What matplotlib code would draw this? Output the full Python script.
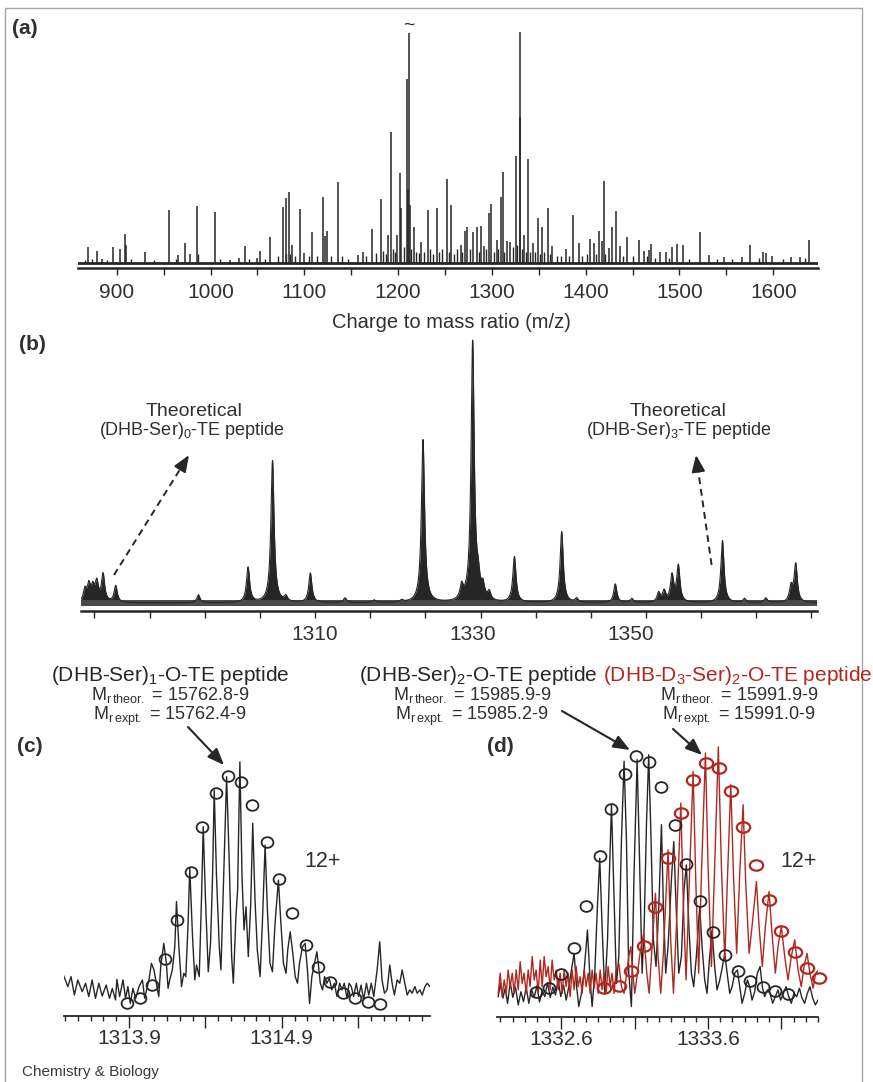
import numpy as np
import matplotlib
matplotlib.use('Agg')
import matplotlib.pyplot as plt
from matplotlib.path import Path
from matplotlib.patches import Rectangle
from matplotlib.transforms import Affine2D

plt.rcParams['font.family'] = ['Liberation Sans', 'DejaVu Sans']
plt.rcParams['mathtext.fontset'] = 'custom'
plt.rcParams['mathtext.rm'] = 'Liberation Sans'
plt.rcParams['mathtext.it'] = 'Liberation Sans:italic'
plt.rcParams['mathtext.bf'] = 'Liberation Sans:bold'

INK = '#262626'
TXT = '#303030'
RED = '#b0281f'

# ---- (a) full spectrum: peak positions (m/z) and heights (% of tallest)
a_peak_mz = [869.1, 878.7, 884.6, 895.7, 903.9, 908.5, 909.6, 929.9, 956.1, 965.4,
             972.8, 978.1, 985.3, 1004.5, 1020.8, 1030.7, 1036.8, 1049.3, 1052.8, 1063.1,
             1076.9, 1080.5, 1083.4, 1087.2, 1095.7, 1099.7, 1108.6, 1119.6, 1122.0, 1124.2,
             1135.9, 1157.6, 1162.3, 1172.5, 1181.8, 1189.6, 1192.4, 1198.8, 1202.0, 1203.4,
             1209.5, 1212.0, 1210.8, 1213.2, 1216.6, 1224.4, 1231.5, 1241.1, 1251.8, 1256.1,
             1266.7, 1271.7, 1273.8, 1280.2, 1283.8, 1288.1, 1291.9, 1297.2, 1298.7, 1305.8,
             1309.7, 1311.8, 1315.8, 1319.3, 1325.7, 1329.6, 1330.3, 1334.2, 1338.5, 1343.8,
             1348.8, 1353.1, 1359.8, 1364.4, 1378.7, 1386.5, 1392.5, 1404.6, 1408.5, 1413.9,
             1417.4, 1419.2, 1424.8, 1428.4, 1432.0, 1436.2, 1444.0, 1456.5, 1461.8, 1467.5,
             1469.6, 1479.5, 1485.9, 1492.3, 1497.3, 1504.1, 1521.5, 1531.8, 1547.8, 1566.3,
             1575.2, 1589.4, 1592.3, 1598.3, 1618.9, 1628.5, 1638.4]
a_peak_int = [6.9, 5.5, 1.9, 6.9, 6.2, 12.5, 7.9, 4.7, 23.0, 3.6,
              8.9, 4.0, 24.7, 22.2, 1.4, 2.2, 7.6, 2.2, 5.5, 11.5,
              24.5, 28.1, 30.9, 7.9, 23.5, 4.3, 13.4, 28.5, 12.0, 13.8,
              35.3, 3.6, 5.0, 14.7, 27.8, 12.2, 56.8, 12.2, 39.1, 23.7,
              79.7, 99.6, 32.0, 25.0, 15.8, 9.4, 23.0, 24.0, 36.3, 25.2,
              7.9, 14.1, 15.8, 13.5, 15.8, 16.1, 7.6, 21.6, 25.5, 10.1,
              28.8, 39.6, 9.6, 9.4, 46.3, 100.0, 63.0, 12.2, 44.9, 8.6,
              19.4, 15.5, 24.0, 7.5, 6.0, 21.0, 8.9, 10.4, 8.9, 14.1,
              9.8, 35.7, 6.5, 15.5, 22.7, 7.5, 11.2, 10.1, 5.5, 5.8,
              8.2, 5.0, 5.0, 6.9, 8.3, 7.8, 13.7, 3.6, 2.6, 2.6,
              7.9, 5.0, 4.3, 3.2, 2.6, 2.9, 10.1]
a_grass_mz = [866, 874, 890, 915, 940, 963, 987, 1010, 1041, 1058,
              1072, 1080, 1085, 1090, 1105, 1113, 1128, 1140, 1147, 1166,
              1176, 1184, 1187, 1195, 1197, 1206, 1214, 1219, 1222, 1228,
              1234, 1237, 1244, 1247, 1254, 1260, 1263, 1268, 1277, 1286,
              1294, 1302, 1307, 1313, 1322, 1327, 1332, 1336, 1341, 1346,
              1351, 1356, 1362, 1369, 1374, 1382, 1396, 1401, 1411, 1421,
              1440, 1450, 1465, 1474, 1489, 1510, 1540, 1556, 1585, 1610, 1634]
a_grass_int = [1.5, 2.0, 1.5, 2.0, 1.5, 2.0, 4.0, 2.0, 2.0, 2.0,
               3.0, 4.0, 4.0, 3.0, 3.0, 3.0, 3.0, 3.0, 2.0, 3.0,
               4.5, 5.5, 4.0, 6.0, 5.0, 7.0, 6.0, 5.0, 4.5, 5.0,
               6.0, 4.0, 5.0, 6.0, 5.0, 4.0, 6.0, 5.0, 6.0, 5.0,
               6.0, 5.0, 6.0, 5.0, 7.0, 8.0, 6.0, 5.0, 5.0, 5.0,
               4.0, 5.0, 4.0, 3.0, 3.0, 3.0, 3.0, 4.0, 4.0, 4.0,
               3.0, 3.0, 3.0, 2.5, 2.5, 2.0, 2.0, 2.0, 2.5, 2.0, 2.5]
a_tick_labels = [900, 1000, 1100, 1200, 1300, 1400, 1500, 1600]
a_tick_minor = [950, 1050, 1150, 1250, 1350, 1450, 1550]

# ---- (b) expanded region
b_peak_mz = [1280.8, 1281.3, 1281.8, 1282.3, 1283.1, 1284.7, 1295.2, 1301.5, 1304.6, 1306.3,
             1309.4, 1313.8, 1317.5, 1321.0, 1323.7, 1328.6, 1330.0, 1330.7, 1331.3, 1332.1,
             1335.3, 1341.3, 1343.2, 1348.1, 1350.2, 1353.6, 1354.3, 1355.3, 1356.1, 1361.7,
             1364.5, 1367.2, 1370.4, 1371.0]
b_peak_int = [7.5, 9.0, 8.0, 10.0, 13.3, 9.2, 6.0, 16.1, 56.0, 5.0,
              14.0, 4.8, 4.0, 3.8, 63.8, 8.0, 100.0, 9.0, 7.7, 6.0,
              20.0, 29.5, 4.5, 10.0, 4.5, 6.5, 7.0, 12.8, 16.5, 26.2,
              4.5, 4.8, 8.6, 17.2]
b_baseline = 3.0
b_tick_labels = [1310, 1330, 1350]
b_tick_minor = [1282, 1289, 1296, 1303, 1310, 1317, 1324, 1331, 1338, 1345, 1352, 1359, 1366, 1373]

# ---- (c) 12+ isotope cluster, measured profile and theoretical distribution
c_profile = [(1313.471, 16.0), (1313.500, 11.5), (1313.521, 15.4), (1313.543, 8.2), (1313.565, 14.1),
             (1313.594, 9.5), (1313.616, 12.8), (1313.637, 7.6), (1313.659, 14.1), (1313.681, 6.9),
             (1313.703, 12.8), (1313.725, 7.8), (1313.751, 12.1), (1313.773, 6.9), (1313.791, 10.8),
             (1313.812, 6.3), (1313.821, 14.3), (1313.839, 7.6), (1313.861, 14.1), (1313.878, 6.9),
             (1313.893, 11.5), (1313.909, 4.9), (1313.926, 10.8), (1313.944, 6.9), (1313.966, 11.5),
             (1313.988, 14.1), (1314.003, 6.9), (1314.018, 10.8), (1314.031, 14.1), (1314.047, 20.6),
             (1314.064, 18.0), (1314.079, 12.8), (1314.095, 7.6), (1314.108, 19.3), (1314.128, 28.4),
             (1314.145, 20.6), (1314.156, 10.8), (1314.167, 14.1), (1314.184, 18.0), (1314.200, 27.1),
             (1314.211, 44.7), (1314.228, 25.8), (1314.244, 11.5), (1314.259, 16.7), (1314.272, 15.4),
             (1314.287, 36.2), (1314.298, 57.7), (1314.316, 31.0), (1314.331, 14.1), (1314.342, 19.9),
             (1314.360, 15.4), (1314.375, 46.6), (1314.386, 74.0), (1314.401, 45.3), (1314.419, 17.3),
             (1314.434, 28.4), (1314.447, 54.4), (1314.458, 88.3), (1314.473, 54.4), (1314.491, 27.1),
             (1314.502, 18.0), (1314.517, 49.2), (1314.539, 93.5), (1314.556, 60.9), (1314.572, 23.2),
             (1314.583, 12.8), (1314.600, 38.8), (1314.611, 49.2), (1314.626, 99.3), (1314.640, 54.4),
             (1314.653, 33.6), (1314.666, 42.7), (1314.681, 23.2), (1314.697, 44.0), (1314.710, 75.3),
             (1314.725, 45.3), (1314.740, 25.8), (1314.758, 15.4), (1314.773, 36.2), (1314.791, 66.8),
             (1314.806, 41.4), (1314.823, 20.6), (1314.839, 17.3), (1314.856, 36.2), (1314.878, 53.1),
             (1314.893, 37.5), (1314.911, 20.6), (1314.928, 16.7), (1314.939, 25.8), (1314.955, 32.9),
             (1314.970, 25.8), (1314.988, 15.4), (1315.003, 12.8), (1315.016, 20.6), (1315.036, 27.1),
             (1315.053, 28.4), (1315.068, 18.0), (1315.082, 4.9), (1315.097, 15.4), (1315.114, 20.6),
             (1315.130, 25.1), (1315.141, 19.3), (1315.152, 12.8), (1315.167, 10.2), (1315.180, 15.4),
             (1315.195, 12.8), (1315.211, 14.7), (1315.228, 10.2), (1315.244, 12.8), (1315.261, 7.6),
             (1315.279, 12.8), (1315.294, 10.2), (1315.309, 12.8), (1315.327, 6.9), (1315.340, 12.8),
             (1315.355, 11.5), (1315.370, 7.6), (1315.388, 12.8), (1315.403, 7.6), (1315.419, 12.1),
             (1315.436, 6.3), (1315.454, 12.8), (1315.469, 8.2), (1315.486, 12.8), (1315.502, 7.6),
             (1315.524, 18.0), (1315.541, 29.0), (1315.556, 14.1), (1315.572, 8.9), (1315.589, 10.2),
             (1315.607, 19.9), (1315.622, 12.8), (1315.637, 8.2), (1315.655, 14.1), (1315.672, 12.8),
             (1315.688, 18.0), (1315.705, 12.8), (1315.721, 8.2), (1315.738, 10.2), (1315.753, 8.9),
             (1315.771, 11.5), (1315.786, 8.9), (1315.804, 10.2), (1315.819, 8.2), (1315.837, 11.5),
             (1315.852, 12.8), (1315.869, 11.5)]
c_theo_mz = [1313.887, 1313.970, 1314.053, 1314.136, 1314.215, 1314.303, 1314.381, 1314.467,
             1314.550, 1314.633, 1314.707, 1314.802, 1314.880, 1314.966, 1315.058, 1315.134,
             1315.217, 1315.300, 1315.381, 1315.462, 1315.546]
c_theo_int = [4.9, 6.9, 12.1, 22.1, 37.5, 56.1, 74.0, 87.0, 93.8, 91.5, 82.4,
              68.1, 53.5, 40.1, 27.7, 19.3, 13.4, 9.1, 6.9, 5.6, 4.7]
c_tick_labels = ['1313.9', '', '1314.9', '']
c_tick_major = [1313.9, 1314.4, 1314.9, 1315.4]

# ---- (d) unlabelled (black) and D3-labelled (red) clusters
d_profile = [(1332.168, 7.6), (1332.184, 12.5), (1332.200, 7.0), (1332.216, 10.7), (1332.232, 5.1),
             (1332.250, 12.8), (1332.268, 7.3), (1332.286, 11.1), (1332.305, 4.5), (1332.323, 9.4),
             (1332.341, 5.7), (1332.359, 11.1), (1332.377, 5.1), (1332.395, 10.3), (1332.414, 7.3),
             (1332.432, 11.6), (1332.450, 5.6), (1332.468, 9.8), (1332.486, 7.6), (1332.505, 12.8),
             (1332.523, 7.3), (1332.541, 11.1), (1332.559, 8.2), (1332.577, 13.8), (1332.595, 7.6),
             (1332.614, 11.9), (1332.632, 6.3), (1332.650, 11.3), (1332.668, 17.5), (1332.686, 23.7),
             (1332.702, 11.9), (1332.718, 3.9), (1332.736, 8.8), (1332.755, 17.5), (1332.777, 32.4),
             (1332.795, 13.8), (1332.809, 3.9), (1332.827, 16.3), (1332.845, 41.1), (1332.861, 59.1),
             (1332.877, 33.7), (1332.895, 8.8), (1332.914, 28.7), (1332.927, 53.5), (1332.941, 79.0),
             (1332.957, 47.3), (1332.975, 12.5), (1332.991, 22.5), (1333.009, 66.0), (1333.027, 95.2),
             (1333.043, 66.0), (1333.059, 16.3), (1333.077, 3.9), (1333.095, 53.5), (1333.116, 95.8),
             (1333.132, 59.8), (1333.150, 16.3), (1333.164, 33.7), (1333.180, 72.2), (1333.195, 97.6),
             (1333.211, 66.0), (1333.227, 28.7), (1333.245, 18.8), (1333.264, 41.1), (1333.282, 71.6),
             (1333.295, 41.1), (1333.311, 16.3), (1333.327, 26.2), (1333.350, 51.1), (1333.366, 65.3),
             (1333.382, 41.1), (1333.400, 16.3), (1333.418, 22.5), (1333.436, 47.3), (1333.452, 56.6),
             (1333.468, 34.9), (1333.486, 16.3), (1333.502, 11.3), (1333.520, 22.5), (1333.543, 41.1),
             (1333.559, 26.2), (1333.577, 13.8), (1333.593, 8.8), (1333.609, 21.2), (1333.627, 32.4),
             (1333.645, 18.8), (1333.661, 10.1), (1333.680, 13.8), (1333.698, 18.8), (1333.714, 23.7),
             (1333.730, 16.3), (1333.748, 8.8), (1333.764, 11.3), (1333.782, 16.3), (1333.800, 17.5),
             (1333.816, 11.3), (1333.832, 5.1), (1333.850, 8.8), (1333.868, 13.8), (1333.884, 11.3),
             (1333.900, 6.3), (1333.918, 9.4), (1333.936, 16.3), (1333.955, 18.8), (1333.970, 11.3),
             (1333.986, 7.6), (1334.005, 10.1), (1334.023, 8.8), (1334.041, 5.1), (1334.059, 7.6),
             (1334.077, 10.1), (1334.095, 6.3), (1334.114, 8.8), (1334.132, 11.3), (1334.150, 7.6),
             (1334.168, 5.1), (1334.186, 8.8), (1334.205, 7.6), (1334.223, 10.7), (1334.241, 7.0),
             (1334.259, 5.1), (1334.277, 8.8), (1334.295, 11.3), (1334.314, 7.0), (1334.332, 4.5),
             (1334.350, 6.3)]
d_d3_profile = [(1332.168, 8.8), (1332.182, 16.3), (1332.195, 7.6), (1332.209, 13.8), (1332.223, 8.8),
                (1332.236, 17.5), (1332.250, 11.3), (1332.264, 16.3), (1332.277, 8.8), (1332.291, 17.5),
                (1332.305, 10.1), (1332.318, 20.6), (1332.332, 12.5), (1332.345, 16.3), (1332.359, 8.8),
                (1332.373, 17.5), (1332.386, 11.3), (1332.400, 22.5), (1332.414, 13.8), (1332.427, 17.5),
                (1332.441, 8.8), (1332.455, 21.2), (1332.468, 11.3), (1332.482, 22.5), (1332.495, 15.0),
                (1332.509, 18.8), (1332.523, 10.1), (1332.536, 21.2), (1332.550, 13.8), (1332.564, 17.5),
                (1332.577, 10.1), (1332.591, 16.3), (1332.605, 8.8), (1332.618, 17.5), (1332.632, 11.3),
                (1332.645, 16.3), (1332.659, 7.6), (1332.673, 17.5), (1332.686, 10.1), (1332.700, 18.8),
                (1332.714, 11.3), (1332.727, 15.0), (1332.741, 8.8), (1332.755, 17.5), (1332.768, 11.3),
                (1332.782, 16.3), (1332.795, 8.8), (1332.809, 17.5), (1332.823, 10.7), (1332.836, 16.3),
                (1332.850, 8.8), (1332.864, 17.5), (1332.877, 10.1), (1332.891, 16.3), (1332.905, 8.8),
                (1332.918, 18.8), (1332.932, 11.3), (1332.945, 16.3), (1332.959, 8.8), (1332.973, 17.5),
                (1332.991, 20.0), (1333.009, 11.3), (1333.027, 8.8), (1333.045, 16.3), (1333.059, 22.5),
                (1333.073, 26.2), (1333.086, 16.3), (1333.100, 8.8), (1333.118, 16.3), (1333.136, 23.7),
                (1333.161, 31.2), (1333.182, 16.3), (1333.198, 8.8), (1333.214, 22.5), (1333.241, 46.1),
                (1333.259, 22.5), (1333.277, 8.8), (1333.295, 23.7), (1333.327, 62.2), (1333.345, 28.7),
                (1333.364, 8.8), (1333.384, 33.7), (1333.414, 79.6), (1333.432, 41.1), (1333.450, 13.8),
                (1333.470, 47.3), (1333.498, 91.4), (1333.516, 51.1), (1333.536, 16.3), (1333.555, 53.5),
                (1333.582, 98.3), (1333.600, 56.0), (1333.623, 18.8), (1333.645, 56.0), (1333.670, 100.5),
                (1333.691, 56.0), (1333.714, 21.2), (1333.732, 51.1), (1333.755, 86.5), (1333.773, 53.5),
                (1333.795, 23.7), (1333.816, 53.5), (1333.839, 79.0), (1333.857, 49.8), (1333.880, 23.7),
                (1333.900, 33.7), (1333.930, 50.4), (1333.948, 33.7), (1333.970, 18.8), (1333.991, 33.7),
                (1334.016, 46.7), (1334.036, 31.2), (1334.059, 16.3), (1334.077, 26.2), (1334.100, 33.7),
                (1334.123, 22.5), (1334.145, 13.8), (1334.168, 22.5), (1334.191, 28.7), (1334.214, 17.5),
                (1334.236, 11.3), (1334.255, 18.8), (1334.275, 23.7), (1334.295, 16.3), (1334.316, 10.7),
                (1334.334, 16.3), (1334.355, 17.5)]
d_theo_mz = [1332.423, 1332.516, 1332.600, 1332.684, 1332.770, 1332.861, 1332.941, 1333.032,
             1333.111, 1333.195, 1333.277, 1333.373, 1333.452, 1333.543, 1333.634, 1333.718,
             1333.805, 1333.889, 1333.975, 1334.059, 1334.145]
d_theo_int = [9.2, 10.7, 16.0, 25.6, 41.5, 59.8, 77.4, 90.4, 97.3, 94.9, 85.6,
              71.6, 56.9, 43.2, 31.6, 23.1, 17.3, 13.5, 11.1, 9.8, 8.6]
d_d3_theo_mz = [1332.891, 1332.991, 1333.073, 1333.161, 1333.241, 1333.327, 1333.414, 1333.498,
                1333.589, 1333.675, 1333.755, 1333.839, 1333.930, 1334.016, 1334.100, 1334.191,
                1334.275, 1334.355]
d_d3_theo_int = [10.7, 11.7, 17.1, 26.5, 41.1, 59.1, 76.1, 88.3, 94.5, 92.7, 84.0,
                 70.6, 56.4, 43.6, 32.0, 24.3, 18.4, 14.4]
d_tick_labels = ['1332.6', '', '1333.6', '']
d_tick_major = [1332.6, 1333.1, 1333.6, 1334.1]
ISOTOPE_STEP = 1 / 12  # 12+ charge state

W, H = 873, 1082
fig = plt.figure(figsize=(W / 100, H / 100), dpi=100)


def px_axes(left, top, right, bottom):
    return fig.add_axes([left / W, 1 - bottom / H, (right - left) / W, (bottom - top) / H])


def bare(ax, spine_lw):
    for s in ('left', 'right', 'top'):
        ax.spines[s].set_visible(False)
    ax.spines['bottom'].set_linewidth(spine_lw)
    ax.spines['bottom'].set_color(INK)
    ax.set_yticks([])
    ax.patch.set_alpha(0)


def ring(aspect):
    return Path.unit_circle().transformed(Affine2D().scale(1.0, aspect))


# panel (a)
ax_a = px_axes(78, 20, 818, 268)
bare(ax_a, 1.8)
ax_a.set_xlim(858.7, 1647.7)
ax_a.set_ylim(-2.03, 105.1)
ax_a.axhline(0.1, color=INK, lw=2.0)
ax_a.vlines(a_grass_mz, 0, a_grass_int, color=INK, lw=1.0)
ax_a.vlines(a_peak_mz, 0, a_peak_int, color=INK, lw=1.1)
ax_a.set_xticks(a_tick_labels)
ax_a.set_xticks(a_tick_minor, minor=True)
ax_a.tick_params(axis='x', which='both', direction='out', length=5, width=1.0,
                 color=INK, labelsize=15, labelcolor=TXT, pad=6)

# panel (b)
ax_b = px_axes(81, 335, 817, 611)
bare(ax_b, 1.8)
ax_b.set_xlim(1280.3, 1373.7)
ax_b.set_ylim(0, 103)
grid = np.linspace(1280.3, 1373.7, 9000)
hw = 0.24
amps = np.asarray(b_peak_int) - b_baseline
centres = np.asarray(b_peak_mz)
prof = b_baseline + (amps[:, None] * hw ** 2 /
                     ((grid[None, :] - centres[:, None]) ** 2 + hw ** 2)).sum(axis=0)
ax_b.fill_between(grid, b_baseline, prof, color=INK, lw=0)
ax_b.plot(grid, prof, color=INK, lw=0.8)
ax_b.axhspan(b_baseline - 1.1, b_baseline + 1.1, color='#4a4a4a', lw=0)
ax_b.xaxis.remove_overlapping_locs = False
ax_b.set_xticks(b_tick_labels)
ax_b.set_xticks(b_tick_minor, minor=True)
ax_b.tick_params(axis='x', which='major', length=0, labelsize=15, labelcolor=TXT, pad=10)
ax_b.tick_params(axis='x', which='minor', direction='out', length=5, width=1.0, color=INK)


def cluster_axes(ax, xlim, ylim_top, majors, labels):
    bare(ax, 1.3)
    ax.set_xlim(*xlim)
    ax.set_ylim(0, ylim_top)
    ax.set_xticks(majors, labels)
    k = np.arange(-12, 36)
    minors = [majors[0] + i * ISOTOPE_STEP for i in k
              if xlim[0] <= majors[0] + i * ISOTOPE_STEP <= xlim[1]]
    ax.set_xticks(minors, minor=True)
    ax.tick_params(axis='x', which='major', direction='out', length=8.5, width=1.0,
                   color=INK, labelsize=15, labelcolor=TXT, pad=1)
    ax.tick_params(axis='x', which='minor', direction='out', length=3.6, width=1.0, color=INK)


# panel (c)
ax_c = px_axes(64, 745, 430, 1016)
cluster_axes(ax_c, (1313.475, 1315.87), 105.9, c_tick_major, c_tick_labels)
cx, cy = np.asarray(c_profile).T
ax_c.plot(cx, cy, color=INK, lw=1.0)
ax_c.plot(c_theo_mz, c_theo_int, ls='none', marker=ring(0.9), ms=8.5,
          mfc='none', mec=INK, mew=1.3, clip_on=False)

# panel (d)
ax_d = px_axes(497, 740, 818, 1017)
cluster_axes(ax_d, (1332.16, 1334.35), 103.1, d_tick_major, d_tick_labels)
dx, dy = np.asarray(d_profile).T
rx, ry = np.asarray(d_d3_profile).T
ax_d.plot(dx, dy, color=INK, lw=1.0)
ax_d.plot(rx, ry, color=RED, lw=1.0)
ax_d.plot(d_theo_mz, d_theo_int, ls='none', marker=ring(0.9), ms=8.6,
          mfc='none', mec=INK, mew=1.3, clip_on=False)
ax_d.plot(d_d3_theo_mz, d_d3_theo_int, ls='none', marker=ring(0.78), ms=9.6,
          mfc='none', mec=RED, mew=1.6, clip_on=False)

# overlay in pixel units for labels and arrows
ov = fig.add_axes([0, 0, 1, 1], facecolor='none', zorder=10)
ov.set_xlim(0, W)
ov.set_ylim(H, 0)
ov.axis('off')
ov.add_patch(Rectangle((5, 8), 857, 1085, fill=False, ec='#a8a8a8', lw=1.0, clip_on=False))

for lab, x, y in [('(a)', 12, 29), ('(b)', 19, 344), ('(c)', 17, 747), ('(d)', 487, 747)]:
    ov.text(x, y, lab, fontsize=15, fontweight='bold', color=TXT, ha='left', va='center')

ov.text(409, 25, '~', fontsize=14, color=INK, ha='center', va='center')
ov.text(451, 322, 'Charge to mass ratio (m/z)', fontsize=14.5, color=TXT,
        ha='center', va='center')

ov.text(194, 416, 'Theoretical', fontsize=14, color=TXT, ha='center', va='baseline')
ov.text(192, 435, r'(DHB-Ser)$_0$-TE peptide', fontsize=13, color=TXT, ha='center', va='baseline')
ov.text(678, 416, 'Theoretical', fontsize=14, color=TXT, ha='center', va='baseline')
ov.text(679, 435, r'(DHB-Ser)$_3$-TE peptide', fontsize=13, color=TXT, ha='center', va='baseline')

mass_labels = [
    (170, 170, INK, r'(DHB-Ser)$_1$-O-TE peptide', '15762.8', '15762.4'),
    (478, 472, INK, r'(DHB-Ser)$_2$-O-TE peptide', '15985.9', '15985.2'),
    (738, 739, RED, r'(DHB-D$_3$-Ser)$_2$-O-TE peptide', '15991.9', '15991.0'),
]
for xt, xm, col, title, theo, expt in mass_labels:
    ov.text(xt, 681, title, fontsize=15, color=col, ha='center', va='baseline')
    ov.text(xm, 700, r'M$_{\mathrm{r\,theor.}}$ = ' + theo + r'-$\mathit{9}$',
            fontsize=13, color=TXT, ha='center', va='baseline')
    ov.text(xm, 720, r'M$_{\mathrm{r\,expt.}}$ = ' + expt + r'-$\mathit{9}$',
            fontsize=13, color=TXT, ha='center', va='baseline')

ov.text(323, 867, '12+', fontsize=15.5, color=TXT, ha='center', va='baseline')
ov.text(799, 867, '12+', fontsize=15.5, color=TXT, ha='center', va='baseline')
ov.text(22, 1076, 'Chemistry & Biology', fontsize=11, color='#3a3a3a', ha='left', va='baseline')

head = dict(arrowstyle='-|>,head_length=0.5,head_width=0.2', color=INK, lw=1.5,
            shrinkA=0, shrinkB=0, mutation_scale=20)
for tail, tip in [((188, 727), (224, 765)), ((562, 711), (630, 750)), ((673, 729), (702, 755))]:
    ov.annotate('', xy=tip, xytext=tail, arrowprops=head)


def dashed_arrow(tail, tip, head_px=15):
    t = np.asarray(tail, float)
    p = np.asarray(tip, float)
    u = (p - t) / np.hypot(*(p - t))
    mid = p - u * head_px
    ov.plot([t[0], mid[0]], [t[1], mid[1]], color=INK, lw=1.4, dashes=(3.5, 2.5))
    ov.annotate('', xy=tuple(p), xytext=tuple(mid), arrowprops=head)


dashed_arrow((114, 575), (189, 455))
dashed_arrow((711.6, 565), (696, 455))

fig.savefig('out.png', dpi=100, facecolor='white')
